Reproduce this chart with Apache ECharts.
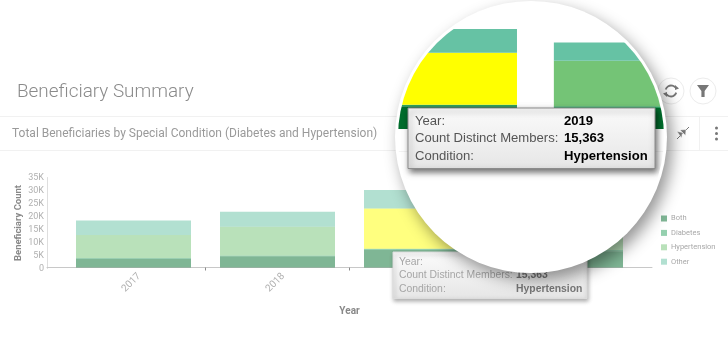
<!DOCTYPE html>
<html>
<head>
<meta charset="utf-8">
<style>
html,body{margin:0;padding:0;background:#fff;width:728px;height:353px;overflow:hidden}
#main{position:absolute;left:0;top:0;width:728px;height:353px}
#lens{position:absolute;left:394.5px;top:1px;width:272px;height:272px;border-radius:50%;background:#fff;box-shadow:5px 7px 16px rgba(0,0,0,.42)}
#lensClip{position:absolute;left:3px;top:3px;width:266px;height:266px;border-radius:50%;overflow:hidden;background:#fff}
#lensChart{position:absolute;left:-397.5px;top:-4px;width:728px;height:353px}
</style>
<script src="https://cdn.jsdelivr.net/npm/echarts@6/dist/echarts.min.js"></script>
</head>
<body>
<div id="main"></div>
<div id="lens"><div id="lensClip"><div id="lensChart"></div></div></div>
<script>
const years = ['2017','2018','2019','2020'];
const both = [3300,4300,6700,6200];
const diabetes = [300,300,500,500];
const hypertension = [8800,11000,15363,13500];
const other = [5600,5700,7037,5400];
const seriesNames = ['Both','Diabetes','Hypertension','Other'];
const yTicks = [0,5000,10000,15000,20000,25000,30000,35000];
const tipLabels = ['Year:','Count Distinct Members:','Condition:'];
const tipValues = ['2019','15,363','Hypertension'];

const seriesColors = ['#006d2c','#2ca25f','#74c476','#66c2a4'];
const selectedColor = '#ffff00';
const values = [both,diabetes,hypertension,other];

function buildSeries(opacity, barWidth){
  return seriesNames.map((name,i)=>({
    name, type:'bar', stack:'total', barWidth, xAxisIndex:0, yAxisIndex:0,
    itemStyle:{color:seriesColors[i],opacity},
    silent:true,
    data: values[i].map((v,k)=> (name==='Hypertension' && years[k]===tipValues[0])
      ? {value:v,itemStyle:{color:selectedColor,opacity}} : v)
  }));
}

function tooltip(x,y,w,h,colX,rowY,size,labelColor,valueColor,border,blur,offset,shadow){
  const els = [{
    type:'rect', shape:{x,y,width:w,height:h}, z:50,
    style:{
      fill:new echarts.graphic.LinearGradient(0,0,0,1,[{offset:0,color:'#fbfbfb'},{offset:1,color:'#e6e6e6'}]),
      stroke:border, lineWidth:1, shadowBlur:blur, shadowOffsetX:offset/2, shadowOffsetY:offset, shadowColor:shadow
    }
  }];
  tipLabels.forEach((t,i)=>els.push({type:'text',z:51,style:{x:x+colX[0],y:rowY[i],text:t,fill:labelColor,font:`${size}px "Liberation Sans"`,textVerticalAlign:'middle'}}));
  tipValues.forEach((t,i)=>els.push({type:'text',z:51,style:{x:x+colX[1],y:rowY[i],text:t,fill:valueColor,font:`bold ${size}px "Liberation Sans"`,textVerticalAlign:'middle'}}));
  return els;
}

const GREY='#b0b0b0';
const main = echarts.init(document.getElementById('main'),null,{renderer:'canvas'});
main.setOption({
  animation:false,
  backgroundColor:'#fff',
  textStyle:{fontFamily:'Roboto'},
  grid:[
    {left:61.5,width:576,top:176,height:91.5,outerBoundsMode:'none'},
    {left:47,width:605,top:176,height:91.5,outerBoundsMode:'none'},
    {left:47,width:605,top:177.5,height:91,outerBoundsMode:'none'}
  ],
  legend:{
    orient:'vertical',left:661,top:214.5,padding:0,itemWidth:6,itemHeight:6,itemGap:6.4,
    icon:'rect',data:seriesNames,selectedMode:false,
    textStyle:{fontSize:7.5,color:'#a8a8a8',fontFamily:'Roboto',padding:[0,0,0,-1]}
  },
  xAxis:[
    {type:'category',gridIndex:0,data:years,
      axisLine:{show:false},axisTick:{show:false},
      axisLabel:{rotate:45,fontSize:10,color:GREY,margin:13,align:'center',verticalAlign:'middle',padding:[0,6,0,0],fontFamily:'Roboto'},
      name:'Year',nameLocation:'middle',nameGap:39,nameMoveOverlap:false,
      nameTextStyle:{fontSize:10,fontWeight:'bold',color:'#888888',fontFamily:'Roboto'}},
    {type:'value',gridIndex:0,position:'bottom',min:0,max:4,interval:1,
      axisLine:{show:false},splitLine:{show:false},axisLabel:{show:false},
      axisTick:{show:true,length:3,customValues:[1,2,3],lineStyle:{color:'#8a8a8a'}}},
    {type:'value',gridIndex:1,min:0,max:1,position:'bottom',
      axisLine:{show:true,lineStyle:{color:'#c8c8c8',width:1}},
      axisTick:{show:false},splitLine:{show:false},axisLabel:{show:false}},
    {type:'value',gridIndex:2,min:0,max:1,show:false}
  ],
  yAxis:[
    {type:'value',gridIndex:0,min:0,max:35000,interval:5000,show:false},
    {type:'value',gridIndex:1,min:0,max:1,show:false},
    {type:'value',gridIndex:2,min:0,max:35000,interval:5000,
      axisLine:{show:true,lineStyle:{color:'#dedede'}},axisTick:{show:false},splitLine:{show:false},
      axisLabel:{fontSize:9,color:GREY,margin:3,fontFamily:'Roboto',
        customValues:yTicks,formatter:v=>v===0?'0':(v/1000)+'K'},
      name:'Beneficiary Count',nameLocation:'middle',nameGap:23,nameRotate:90,nameMoveOverlap:false,
      nameTextStyle:{fontSize:9.5,fontWeight:'bold',color:'#888888',fontFamily:'Roboto'}}
  ],
  series:buildSeries(0.5,115),
  graphic:[
    {type:'text',style:{x:17,y:92.5,text:'Beneficiary Summary',fill:'#8a8a8a',font:'300 18.9px Roboto',textVerticalAlign:'middle'}},
    {type:'text',style:{x:12,y:134,text:'Total Beneficiaries by Special Condition (Diabetes and Hypertension)',fill:'#9a9a9a',font:'12px Roboto',textVerticalAlign:'middle'}},
    {type:'line',shape:{x1:0,y1:116.5,x2:728,y2:116.5},style:{stroke:'#f1f1f1',lineWidth:1}},
    {type:'line',shape:{x1:0,y1:150.5,x2:728,y2:150.5},style:{stroke:'#f1f1f1',lineWidth:1}},
    {type:'line',shape:{x1:699.5,y1:117,x2:699.5,y2:150},style:{stroke:'#f1f1f1',lineWidth:1}},
    {type:'circle',shape:{cx:671,cy:91,r:13},style:{fill:'#fff',stroke:'#ececec',lineWidth:1}},
    {type:'circle',shape:{cx:703,cy:91,r:13},style:{fill:'#fff',stroke:'#ececec',lineWidth:1}},
    {type:'arc',shape:{cx:671,cy:91,r:5.5,startAngle:3.4,endAngle:5.6},style:{fill:null,stroke:'#777',lineWidth:1.8}},
    {type:'arc',shape:{cx:671,cy:91,r:5.5,startAngle:0.3,endAngle:2.5},style:{fill:null,stroke:'#777',lineWidth:1.8}},
    {type:'polygon',shape:{points:[[675,85],[679,88.5],[675,90]]},style:{fill:'#777'}},
    {type:'polygon',shape:{points:[[667,97],[663,93.5],[667,92]]},style:{fill:'#777'}},
    {type:'polygon',shape:{points:[[697,85],[709,85],[704.6,91],[704.6,97],[701.4,97],[701.4,91]]},style:{fill:'#777'}},
    {type:'line',shape:{x1:677,y1:139,x2:689,y2:127},style:{stroke:'#777',lineWidth:1}},
    {type:'polygon',shape:{points:[[680,130],[686,129.5],[685.5,135.5]]},style:{fill:'#777',stroke:'#fff',lineWidth:.5}},
    {type:'polygon',shape:{points:[[677,131.5],[682.5,132.5],[681.5,138]]},style:{fill:'#777',stroke:'#fff',lineWidth:.5}},
    {type:'circle',shape:{cx:716.5,cy:128,r:1.5},style:{fill:'#777'}},
    {type:'circle',shape:{cx:716.5,cy:133.5,r:1.5},style:{fill:'#777'}},
    {type:'circle',shape:{cx:716.5,cy:139,r:1.5},style:{fill:'#777'}},
    ...tooltip(393,252,194,46.5,[6,123],[262,275.5,289],10.4,'#a6a6a6','#777','#dcdcdc',4,2,'rgba(0,0,0,.3)')
  ]
});

const lens = echarts.init(document.getElementById('lensChart'),null,{renderer:'canvas'});
lens.setOption({
  animation:false,
  backgroundColor:'#fff',
  grid:{left:-13.2,width:731.5,top:10.7,height:118.3,outerBoundsMode:'none'},
  xAxis:{type:'category',data:years,show:false},
  yAxis:{type:'value',min:0,max:35000,show:false},
  series:buildSeries(1,146),
  graphic:[
    {type:'line',shape:{x1:390,y1:116.5,x2:670,y2:116.5},style:{stroke:'#f3f3f3',lineWidth:1},z:1},
    {type:'line',shape:{x1:390,y1:151.5,x2:670,y2:151.5},style:{stroke:'#f3f3f3',lineWidth:1},z:1},
    ...tooltip(408,108,247,60.5,[7,156],[121,138,156],13.1,'#555','#000','#8c8c8c',6,3,'rgba(0,0,0,.55)')
  ]
});
</script>
</body>
</html>
